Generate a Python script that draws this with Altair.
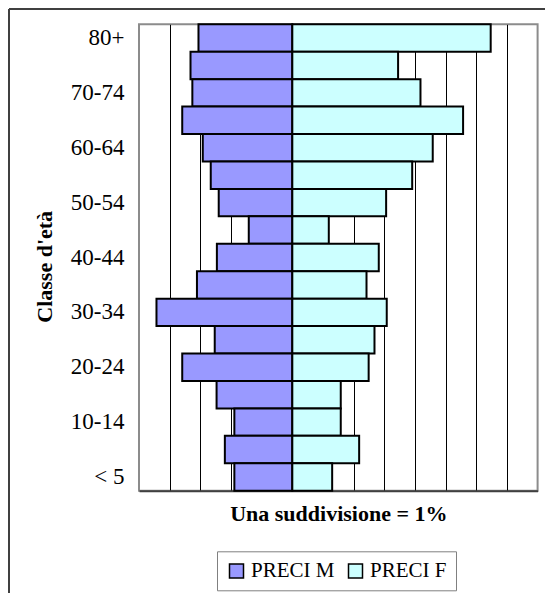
import altair as alt
import pandas as pd

ages = ["80+", "75-79", "70-74", "65-69", "60-64", "55-59", "50-54", "45-49",
        "40-44", "35-39", "30-34", "25-29", "20-24", "15-19", "10-14", "5-9", "< 5"]
male = [3.06, 3.32, 3.26, 3.59, 2.92, 2.66, 2.40, 1.42,
        2.46, 3.11, 4.43, 2.53, 3.59, 2.47, 1.89, 2.20, 1.89]
female = [6.47, 3.45, 4.18, 5.57, 4.58, 3.91, 3.06, 1.19,
          2.82, 2.42, 3.08, 2.68, 2.49, 1.58, 1.58, 2.18, 1.30]
shown_labels = ["80+", "70-74", "60-64", "50-54", "40-44", "30-34", "20-24", "10-14", "< 5"]
series = ["PRECI M", "PRECI F"]
colors = ["#9999FF", "#CCFFFF"]

rows = []
for a, m, f in zip(ages, male, female):
    rows.append({"age": a, "value": -m, "serie": series[0]})
    rows.append({"age": a, "value": f, "serie": series[1]})
df = pd.DataFrame(rows)

FONT = "Liberation Serif"
W, H = 398.6, 466.4
PL, PT = 131.0, 16.3

bars = alt.Chart(df).mark_bar(stroke="black", strokeWidth=2).encode(
    x=alt.X("value:Q", stack=None,
            scale=alt.Scale(domain=[-5, 8], nice=False, zero=False),
            axis=alt.Axis(values=list(range(-4, 8)), labels=False, ticks=False,
                          grid=True, gridColor="black", gridWidth=1, gridOpacity=1,
                          domain=True, domainColor="#404040", domainWidth=2,
                          title="Una suddivisione = 1%", titleFont=FONT,
                          titleFontSize=22, titleFontWeight="bold", titleColor="black",
                          titlePadding=13)),
    y=alt.Y("age:N", sort=ages,
            scale=alt.Scale(paddingInner=0, paddingOuter=0),
            axis=alt.Axis(values=shown_labels, ticks=False, domain=False,
                          labelFont=FONT, labelFontSize=23, labelColor="black",
                          labelPadding=15,
                          title="Classe d'età", titleFont=FONT, titleFontSize=22,
                          titleFontWeight="bold", titleColor="black",
                          titleAngle=-90, titleX=-95, titleY=242,
                          titleBaseline="middle", titleAlign="center")),
    color=alt.Color("serie:N", sort=series,
                    scale=alt.Scale(domain=series, range=colors),
                    legend=alt.Legend(title=None, orient="none", direction="horizontal",
                                      legendX=78, legendY=527,
                                      symbolType="square", symbolSize=196,
                                      symbolStrokeColor="black", symbolStrokeWidth=1.5,
                                      symbolOpacity=1,
                                      labelFont=FONT, labelFontSize=21, labelColor="black",
                                      labelOffset=4, columnPadding=10,
                                      strokeColor="#808080", fillColor="white",
                                      padding=9)),
)

frame_df = pd.DataFrame({"k": [0]})
frame_left = alt.Chart(frame_df).mark_rule(color="#404040", strokeWidth=2).encode(
    x=alt.value(-PL + 1), y=alt.value(-PT + 1), y2=alt.value(585 - PT)
)
frame_top = alt.Chart(frame_df).mark_rule(color="#404040", strokeWidth=2).encode(
    x=alt.value(-PL + 1), x2=alt.value(537 - PL), y=alt.value(-PT + 1)
)

chart = alt.layer(frame_left, frame_top, bars).properties(
    width=W, height=H,
    autosize=alt.AutoSizeParams(type="none"),
    padding={"left": PL, "top": PT, "right": 537 - PL - W, "bottom": 585 - PT - H},
    background="white",
).configure_view(stroke="#8c8c8c", strokeWidth=2)

chart.save("out.html", embed_options={"renderer": "svg", "actions": False})
